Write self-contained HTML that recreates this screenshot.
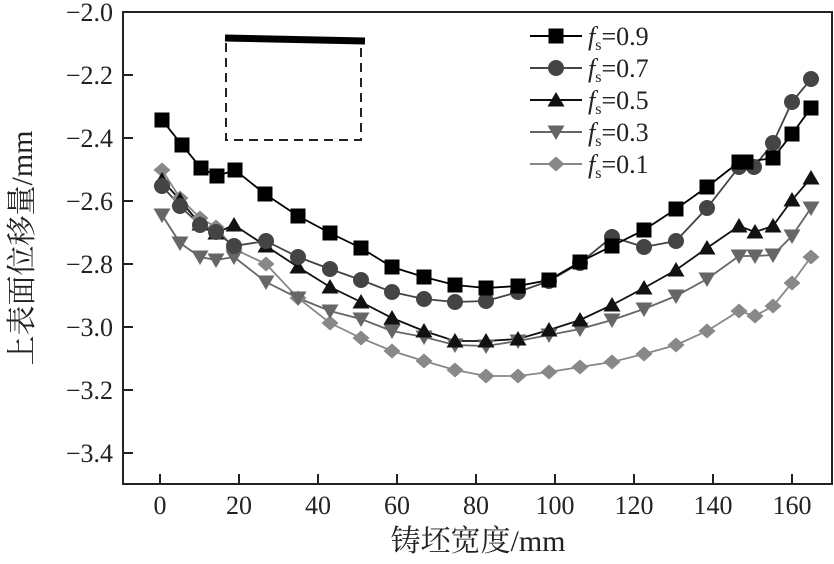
<!DOCTYPE html>
<html><head><meta charset="utf-8"><style>body{margin:0;background:#fff}</style></head><body>
<svg width="834" height="559" xmlns="http://www.w3.org/2000/svg" font-family="'Liberation Serif','Noto Serif CJK SC',serif">
<defs>
<g id="sq"><rect x="-7.5" y="-7.5" width="15" height="15" fill="#000"/></g>
<g id="ci"><circle r="8" fill="#444"/></g>
<g id="tu"><path d="M0,-8 L8.5,6.5 L-8.5,6.5Z" fill="#111"/></g>
<g id="td"><path d="M0,8 L8.5,-6.5 L-8.5,-6.5Z" fill="#666"/></g>
<g id="di"><path d="M0,-7.5 L8.5,0 L0,7.5 L-8.5,0Z" fill="#888"/></g>
</defs>
<rect x="123" y="12" width="709" height="472" fill="none" stroke="#222" stroke-width="2"/>
<g stroke="#222" stroke-width="2">
<line x1="123" y1="75" x2="133" y2="75"/><line x1="123" y1="138" x2="133" y2="138"/><line x1="123" y1="201" x2="133" y2="201"/><line x1="123" y1="264" x2="133" y2="264"/><line x1="123" y1="327" x2="133" y2="327"/><line x1="123" y1="390" x2="133" y2="390"/><line x1="123" y1="453" x2="133" y2="453"/>
<line x1="160" y1="484" x2="160" y2="474"/><line x1="239" y1="484" x2="239" y2="474"/><line x1="318" y1="484" x2="318" y2="474"/><line x1="397" y1="484" x2="397" y2="474"/><line x1="476" y1="484" x2="476" y2="474"/><line x1="555" y1="484" x2="555" y2="474"/><line x1="634" y1="484" x2="634" y2="474"/><line x1="713" y1="484" x2="713" y2="474"/><line x1="792" y1="484" x2="792" y2="474"/>
</g>
<g font-size="26" fill="#222" text-anchor="end">
<text x="113" y="21">−2.0</text><text x="113" y="84">−2.2</text><text x="113" y="147">−2.4</text><text x="113" y="210">−2.6</text><text x="113" y="273">−2.8</text><text x="113" y="336">−3.0</text><text x="113" y="399">−3.2</text><text x="113" y="462">−3.4</text>
</g>
<g font-size="26" fill="#222" text-anchor="middle">
<text x="160" y="514">0</text><text x="239" y="514">20</text><text x="318" y="514">40</text><text x="397" y="514">60</text><text x="476" y="514">80</text><text x="555" y="514">100</text><text x="634" y="514">120</text><text x="713" y="514">140</text><text x="792" y="514">160</text>
</g>
<text x="478" y="551" font-size="30" text-anchor="middle" fill="#222">铸坯宽度/mm</text>
<text transform="translate(32,248) rotate(-90)" font-size="30" text-anchor="middle" fill="#222">上表面位移量/mm</text>
<line x1="225" y1="38" x2="365" y2="41" stroke="#000" stroke-width="7"/>
<path d="M226,43 V140 H361 V43" fill="none" stroke="#222" stroke-width="2" stroke-dasharray="9,6"/>
<g font-size="26" fill="#222">
<line x1="530" y1="36" x2="582" y2="36" stroke="#000" stroke-width="2"/><use href="#sq" x="556" y="36"/>
<line x1="530" y1="68" x2="582" y2="68" stroke="#444" stroke-width="2"/><use href="#ci" x="556" y="68"/>
<line x1="530" y1="100" x2="582" y2="100" stroke="#111" stroke-width="2"/><use href="#tu" x="556" y="100"/>
<line x1="530" y1="132" x2="582" y2="132" stroke="#666" stroke-width="2"/><use href="#td" x="556" y="132"/>
<line x1="530" y1="164" x2="582" y2="164" stroke="#888" stroke-width="2"/><use href="#di" x="556" y="164"/>
<text x="588" y="45"><tspan font-style="italic">f</tspan><tspan font-size="16" dy="5">s</tspan><tspan dy="-5">=0.9</tspan></text>
<text x="588" y="77"><tspan font-style="italic">f</tspan><tspan font-size="16" dy="5">s</tspan><tspan dy="-5">=0.7</tspan></text>
<text x="588" y="109"><tspan font-style="italic">f</tspan><tspan font-size="16" dy="5">s</tspan><tspan dy="-5">=0.5</tspan></text>
<text x="588" y="141"><tspan font-style="italic">f</tspan><tspan font-size="16" dy="5">s</tspan><tspan dy="-5">=0.3</tspan></text>
<text x="588" y="173"><tspan font-style="italic">f</tspan><tspan font-size="16" dy="5">s</tspan><tspan dy="-5">=0.1</tspan></text>
</g>
<g fill="none" stroke-width="1.8">
<polyline id="p1" stroke="#888" points="162,170 180,198 200,218 216,227 234,249 266,264 298,298 330,323 361,338 392,351 424,361 455,370 486,376 518,376 549,372 580,367 612,362 644,354 676,345 707,331 739,311 755,316 773,306 792,283 811,257"/>
<polyline id="p3" stroke="#666" points="162,215 180,243 200,257 216,260 234,257 266,282 298,298 330,311 361,319 392,331 424,337 455,345 486,346 518,341 549,335 580,329 612,320 644,309 676,296 707,279 739,256 755,256 773,255 792,236 811,208"/>
<polyline id="p5" stroke="#111" points="162,180 180,200 200,224 216,233 234,225 266,246 298,267 330,287 361,302 392,318 424,331 455,341 486,341 518,339 549,330 580,320 612,305 644,288 676,270 707,248 739,226 755,232 773,226 792,200 811,178"/>
<polyline id="p7" stroke="#444" points="162,186 180,206 200,225 216,232 234,246 266,241 298,257 330,269 361,280 392,292 424,299 455,302 486,301 518,292 549,281 580,263 612,237 644,247 676,241 707,208 739,167 754,167 773,143 792,102 811,79"/>
<polyline id="p9" stroke="#000" points="162,120 182,145 201,168 217,176 235,170 265,194 298,216 330,233 361,248 392,267 424,277 455,285 486,288 518,286 549,280 580,262 612,246 644,230 676,209 707,187 739,162 746,162 773,158 792,134 811,108"/>
</g>
<g id="marks"></g>
<script>
const m={p1:'di',p3:'td',p5:'tu',p7:'ci',p9:'sq'};
const g=document.getElementById('marks');
for(const k in m){const pts=document.getElementById(k).getAttribute('points').trim().split(/\s+/);
for(const p of pts){const [x,y]=p.split(',');const u=document.createElementNS('http://www.w3.org/2000/svg','use');
u.setAttribute('href','#'+m[k]);u.setAttribute('x',x);u.setAttribute('y',y);g.appendChild(u);}}
</script>
</svg>
</body></html>
